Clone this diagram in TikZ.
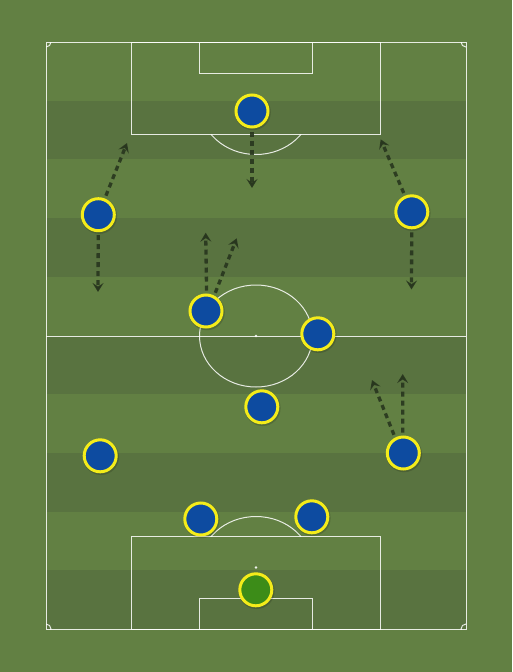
\documentclass[tikz,border=0pt]{standalone}
\usetikzlibrary{arrows.meta}
\definecolor{grassL}{RGB}{98,128,67}
\definecolor{grassD}{RGB}{89,115,64}
\definecolor{kitblue}{RGB}{13,75,160}
\definecolor{kityellow}{RGB}{244,236,26}
\definecolor{gkgreen}{RGB}{60,140,24}
\definecolor{runcol}{RGB}{40,54,30}
\tikzset{
  pline/.style={draw=white, draw opacity=0.85, line width=1pt},
  player/.style={circle, fill=kitblue, draw=kityellow, line width=3pt, minimum size=32pt, inner sep=0pt, outer sep=1.5pt},
  keeper/.style={player, fill=gkgreen},
  shadowdisc/.style={fill=black, fill opacity=0.15},
  run/.style={draw=runcol, draw opacity=0.9, line width=3.3pt, dash pattern=on 5pt off 4pt,
    -{Stealth[length=9pt,width=11pt,inset=3.5pt]}, shorten <=3pt}
}
\begin{document}
\begin{tikzpicture}[x=1pt,y=-1pt]
\useasboundingbox (0,0) rectangle (512,672);
\fill[grassL] (0,0) rectangle (512,672);
% stripes
\foreach \k in {1,3,5,7,9}{
  \fill[grassD] (46,{42+58.7*\k}) rectangle (466,{42+58.7*(\k+1)});
}
% pitch lines
\draw[pline] (46,42) rectangle (466,629);
\draw[pline] (46,336) -- (466,336);
\draw[pline] (256,336) ellipse [x radius=56.5, y radius=51];
\fill[white, opacity=0.9] (256,336) circle (1.3);
% top penalty area
\draw[pline] (131,42) rectangle (380,134.5);
\draw[pline] (199.5,42) rectangle (312.5,73);
\fill[white, opacity=0.9] (256,103.5) circle (1.3);
\begin{scope}
  \clip (131,134.5) rectangle (380,170);
  \draw[pline] (256,103.5) ellipse [x radius=56.5, y radius=51];
\end{scope}
% bottom penalty area
\draw[pline] (131,536.5) rectangle (380,629);
\draw[pline] (199.5,598) rectangle (312.5,629);
\fill[white, opacity=0.9] (256,567.5) circle (1.3);
\begin{scope}
  \clip (131,500) rectangle (380,536.5);
  \draw[pline] (256,567.5) ellipse [x radius=56.5, y radius=51];
\end{scope}
% corner arcs
\begin{scope}
  \clip (46,42) rectangle (466,629);
  \draw[pline] (46,42) circle (5);
  \draw[pline] (466,42) circle (5);
  \draw[pline] (46,629) circle (5);
  \draw[pline] (466,629) circle (5);
\end{scope}
% shadows
\foreach \x/\y in {252/111, 98.3/214.7, 411.8/211.8, 206/311, 317.8/333.8, 261.8/406.8, 100.2/455.8, 403.3/453, 200.8/519, 311.8/516.8, 255.8/589.8}{
  \fill[shadowdisc] (\x+0.8,\y+1.2) circle (18);
}
% players
\node[player] (p1) at (252,111) {};
\node[player] (p2) at (98.3,214.7) {};
\node[player] (p3) at (411.8,211.8) {};
\node[player] (p4) at (206,311) {};
\node[player] (p5) at (317.8,333.8) {};
\node[player] (p6) at (261.8,406.8) {};
\node[player] (p7) at (100.2,455.8) {};
\node[player] (p8) at (403.3,453) {};
\node[player] (p9) at (200.8,519) {};
\node[player] (p10) at (311.8,516.8) {};
\node[keeper] (gk) at (255.8,589.8) {};
% run targets
\coordinate (t1) at (252,188);
\coordinate (t2a) at (127,143);
\coordinate (t2b) at (98,292);
\coordinate (t3a) at (380.7,139.3);
\coordinate (t3b) at (411.5,289.5);
\coordinate (t4a) at (205.7,232.7);
\coordinate (t4b) at (236.7,238.3);
\coordinate (t8a) at (402.7,374);
\coordinate (t8b) at (372,380);
% runs
\draw[run] (p1) -- (t1);
\draw[run] (p2) -- (t2a);
\draw[run] (p2) -- (t2b);
\draw[run] (p3) -- (t3a);
\draw[run] (p3) -- (t3b);
\draw[run] (p4.{88}) -- (t4a);
\draw[run] (p4.{62}) -- (t4b);
\draw[run] (p8.{92}) -- (t8a);
\draw[run] (p8.{118}) -- (t8b);
\end{tikzpicture}
\end{document}
